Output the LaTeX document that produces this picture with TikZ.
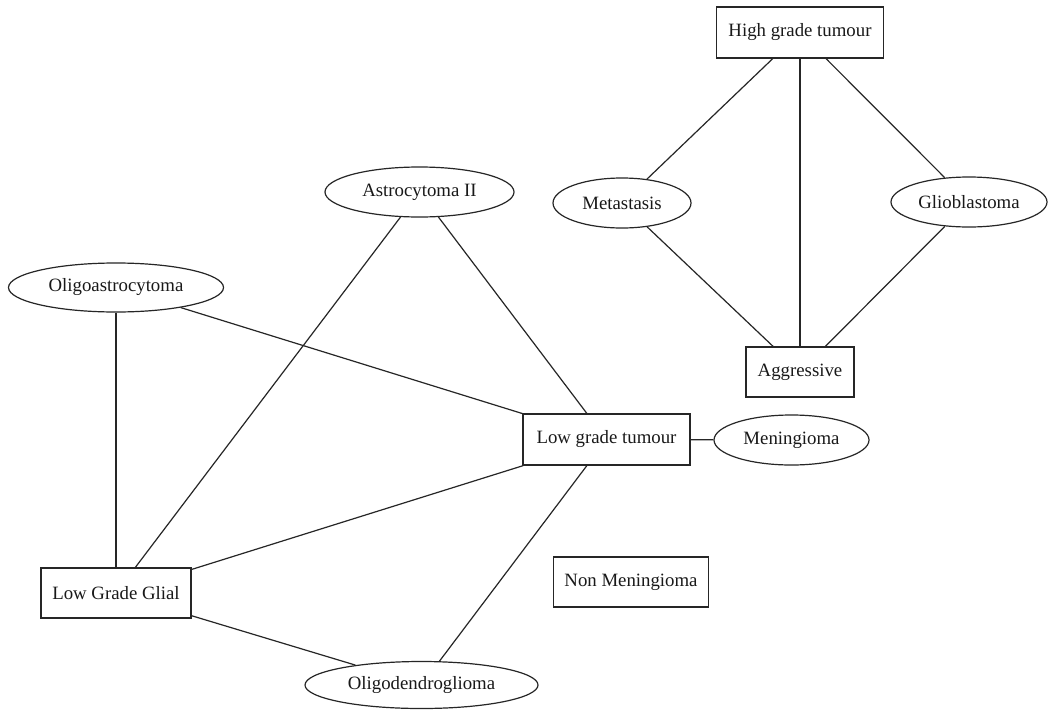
\documentclass[tikz,border=0pt]{standalone}
\usepackage{fontspec}
\setmainfont{Liberation Serif}
\usetikzlibrary{shapes.geometric}
\begin{document}
\begin{tikzpicture}[x=1pt,y=-1pt,
  base/.style={draw=black!85, line width=1.2pt, inner sep=0pt, font=\fontsize{18.8}{22}\selectfont, text=black!90},
  box/.style={base, rectangle},
  oval/.style={base, ellipse},
  link/.style={draw=black!85, line width=1.2pt}]
\useasboundingbox[fill=white] (0,0) rectangle (1048,709);

\node[box, minimum width=167pt, minimum height=51pt] (high) at (800,32.5) {High grade tumour};
\node[box, minimum width=108pt, minimum height=50pt] (agg) at (800,372) {Aggressive};
\node[oval, minimum width=138pt, minimum height=50pt] (meta) at (622,203) {Metastasis};
\node[oval, minimum width=156pt, minimum height=50pt] (glio) at (969,202) {Glioblastoma};
\node[oval, minimum width=189pt, minimum height=50pt] (astro) at (419.5,192) {Astrocytoma II};
\node[oval, minimum width=215pt, minimum height=49pt] (oligoa) at (116,287.5) {Oligoastrocytoma};
\node[box, minimum width=167pt, minimum height=51pt] (lgt) at (606.5,439.5) {Low grade tumour};
\node[oval, minimum width=155pt, minimum height=50pt] (men) at (791.5,440) {Meningioma};
\node[box, minimum width=155pt, minimum height=50pt] (nonmen) at (631,582) {Non Meningioma};
\node[box, minimum width=150pt, minimum height=50pt] (lgg) at (116,593) {Low Grade Glial};
\node[oval, minimum width=233pt, minimum height=47pt] (oligod) at (421.5,685) {Oligodendroglioma};

\draw[link] (high) -- (meta);
\draw[link] (high) -- (agg);
\draw[link] (high) -- (glio);
\draw[link] (meta) -- (agg);
\draw[link] (glio) -- (agg);
\draw[link] (astro) -- (lgt);
\draw[link] (astro) -- (lgg);
\draw[link] (oligoa) -- (lgt);
\draw[link] (oligoa) -- (lgg);
\draw[link] (lgt) -- (lgg);
\draw[link] (lgt) -- (men);
\draw[link] (lgt) -- (oligod);
\draw[link] (lgg) -- (oligod);
\end{tikzpicture}
\end{document}
